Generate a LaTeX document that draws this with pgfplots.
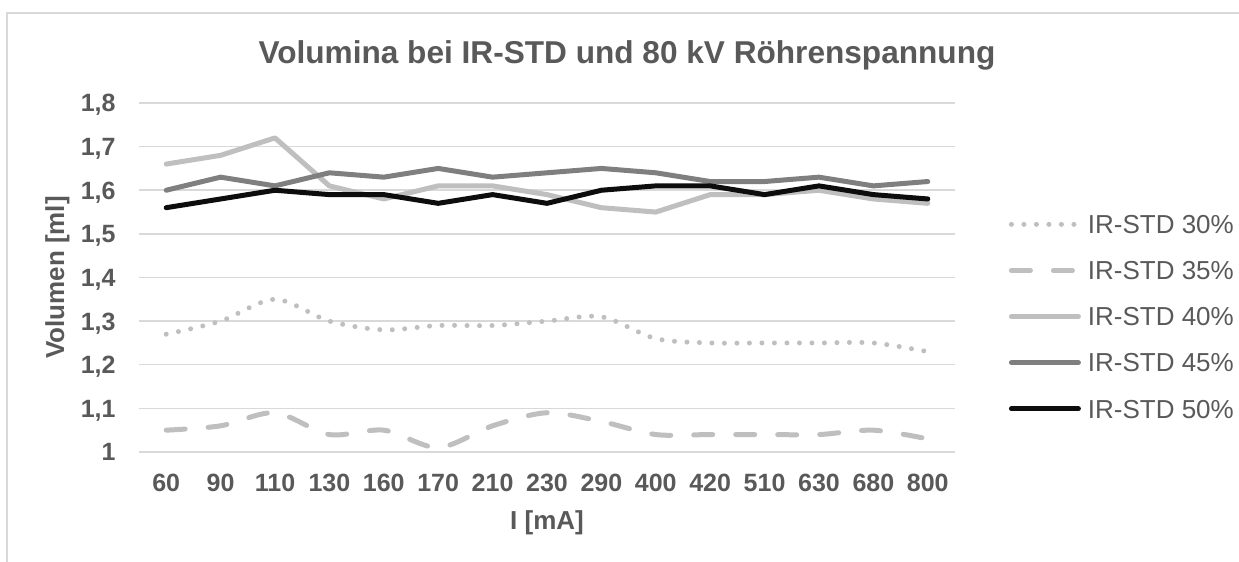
\documentclass[border=0pt]{standalone}
\usepackage{fontspec}
\setmainfont{Liberation Sans}
\usepackage{pgfplots}
\pgfplotsset{compat=1.18}
\definecolor{txt}{HTML}{595959}
\definecolor{gridc}{HTML}{D9D9D9}
\definecolor{lg}{HTML}{BFBFBF}
\definecolor{dg}{HTML}{7F7F7F}
\definecolor{bk}{HTML}{0D0D0D}
\begin{document}
\begin{tikzpicture}
\useasboundingbox (-69.5pt,-55pt) rectangle (550pt,226pt);
\draw[gridc, line width=0.75pt] (-66pt,-55pt) -- (-66pt,219.5pt) -- (550pt,219.5pt);
\begin{axis}[
  scale only axis, width=408pt, height=174.5pt,
  xmin=-0.5, xmax=14.5, ymin=1, ymax=1.8,
  xtick={0,...,14},
  xticklabels={60,90,110,130,160,170,210,230,290,400,420,510,630,680,800},
  ytick={1,1.1,1.2,1.3,1.4,1.5,1.6,1.7,1.8},
  /pgf/number format/.cd, use comma, fixed, precision=1, assume math mode=true, /pgfplots/.cd,
  major tick length=0pt,
  axis lines*=left,
  x axis line style={gridc, line width=0.75pt, -},
  y axis line style={draw=none},
  ymajorgrids, grid style={gridc, line width=0.75pt},
  tick label style={font=\fontsize{12.5pt}{14pt}\selectfont\bfseries, text=txt},
  xticklabel style={anchor=base, yshift=-20pt},
  yticklabel style={anchor=base east, xshift=-11.5pt, yshift=-4.5pt, inner xsep=0pt},
  xlabel={I [mA]}, ylabel={Volumen [ml]},
  label style={font=\fontsize{13pt}{15pt}\selectfont\bfseries, text=txt},
  xlabel style={at={(axis description cs:0.5,-0.2235)}, anchor=base},
  ylabel style={at={(axis description cs:-0.0919,0.5)}, anchor=base},
  title={Volumina bei IR-STD und 80 kV Röhrenspannung},
  every axis title shift=0pt,
  title style={at={(axis description cs:0.598,1.1146)}, anchor=base, font=\fontsize{15.8pt}{18pt}\selectfont\bfseries, text=txt},
  legend cell align=left,
  legend image code/.code={\draw[#1] (0pt,0pt) -- (33.5pt,0pt);},
  legend style={at={(1.0656,0.68)}, anchor=north west, draw=none, fill=none,
    font=\fontsize{13pt}{15pt}\selectfont, text=txt, inner sep=0pt,
    row sep=13.75pt, column sep=3.5pt,
    nodes={inner sep=0pt, text height=9.3pt, text depth=0pt}},
  every axis plot/.append style={line width=2.5pt, line cap=round, line join=round},
]
\addplot[lg, smooth, tension=0.5, dash pattern=on 0pt off 6.25pt] coordinates {
(0,1.27) (1,1.30) (2,1.35) (3,1.30) (4,1.28) (5,1.29) (6,1.29) (7,1.30) (8,1.31) (9,1.26) (10,1.25) (11,1.25) (12,1.25) (13,1.25) (14,1.23)};
\addlegendentry{IR-STD 30\%}
\addplot[lg, smooth, tension=0.5, dash pattern=on 9.5pt off 11.5pt] coordinates {
(0,1.05) (1,1.06) (2,1.09) (3,1.04) (4,1.05) (5,1.01) (6,1.06) (7,1.09) (8,1.07) (9,1.04) (10,1.04) (11,1.04) (12,1.04) (13,1.05) (14,1.03)};
\addlegendentry{IR-STD 35\%}
\addplot[lg] coordinates {
(0,1.66) (1,1.68) (2,1.72) (3,1.61) (4,1.58) (5,1.61) (6,1.61) (7,1.59) (8,1.56) (9,1.55) (10,1.59) (11,1.59) (12,1.60) (13,1.58) (14,1.57)};
\addlegendentry{IR-STD 40\%}
\addplot[dg] coordinates {
(0,1.60) (1,1.63) (2,1.61) (3,1.64) (4,1.63) (5,1.65) (6,1.63) (7,1.64) (8,1.65) (9,1.64) (10,1.62) (11,1.62) (12,1.63) (13,1.61) (14,1.62)};
\addlegendentry{IR-STD 45\%}
\addplot[bk] coordinates {
(0,1.56) (1,1.58) (2,1.60) (3,1.59) (4,1.59) (5,1.57) (6,1.59) (7,1.57) (8,1.60) (9,1.61) (10,1.61) (11,1.59) (12,1.61) (13,1.59) (14,1.58)};
\addlegendentry{IR-STD 50\%}
\end{axis}
\end{tikzpicture}
\end{document}
